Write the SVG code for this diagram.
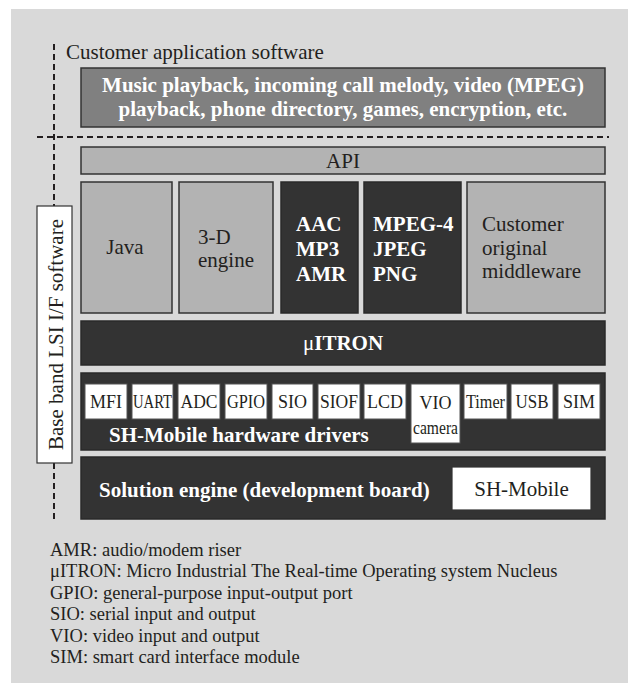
<svg xmlns="http://www.w3.org/2000/svg" width="628" height="683" viewBox="0 0 628 683">
<style>
text{font-family:"Liberation Serif","Times New Roman",serif;}
.t{font-size:21px;fill:#231f20;}
.b{font-size:21px;font-weight:bold;fill:#ffffff;}
.s{font-size:18px;fill:#231f20;}
.lg{font-size:18.5px;fill:#231f20;}
.mid{fill:#808080;stroke:#333;stroke-width:1.5;}
.lt{fill:#b3b3b3;stroke:#333;stroke-width:1.5;}
.dk{fill:#333333;stroke:#2a2a2a;stroke-width:1.5;}
.wh{fill:#ffffff;stroke:#333;stroke-width:1.2;}
.sm{fill:#ffffff;stroke:#555;stroke-width:1;}
.dash{fill:none;stroke:#231f20;stroke-width:2;stroke-dasharray:6 4;}
</style>
<rect x="11" y="9" width="617" height="674" fill="#d9d9d9"/>

<g id="separators">
<line class="dash" x1="54" y1="44" x2="54" y2="206"/>
<line class="dash" x1="54" y1="463" x2="54" y2="521"/>
<line class="dash" x1="37" y1="137" x2="609" y2="137"/>
</g>

<g id="customer-app">
<text class="t" x="66" y="59">Customer application software</text>
<rect class="mid" x="81" y="68" width="524" height="59"/>
<text class="b" x="343" y="92" text-anchor="middle">Music playback, incoming call melody, video (MPEG)</text>
<text class="b" x="343" y="116" text-anchor="middle">playback, phone directory, games, encryption, etc.</text>
</g>

<g id="baseband">
<rect class="wh" x="37" y="206" width="35" height="257"/>
<text class="t" transform="translate(63,334.5) rotate(-90)" text-anchor="middle">Base band LSI I/F software</text>
</g>

<g id="api">
<rect class="lt" x="81" y="147" width="524" height="27"/>
<text class="t" x="343" y="168" text-anchor="middle">API</text>
</g>

<g id="java">
<rect class="lt" x="81" y="182" width="91" height="131"/>
<text class="t" x="125" y="254" text-anchor="middle">Java</text>
</g>

<g id="engine3d">
<rect class="lt" x="179" y="182" width="94" height="131"/>
<text class="t" x="198" y="244">3-D</text>
<text class="t" x="198" y="267">engine</text>
</g>

<g id="audio">
<rect class="dk" x="281" y="182" width="77" height="131"/>
<text class="b" x="296" y="231">AAC</text>
<text class="b" x="296" y="256">MP3</text>
<text class="b" x="296" y="281">AMR</text>
</g>

<g id="image">
<rect class="dk" x="364" y="182" width="97" height="131"/>
<text class="b" x="373" y="231">MPEG-4</text>
<text class="b" x="373" y="256">JPEG</text>
<text class="b" x="373" y="281">PNG</text>
</g>

<g id="middleware">
<rect class="lt" x="467" y="182" width="138" height="131"/>
<text class="t" x="482" y="231">Customer</text>
<text class="t" x="482" y="255">original</text>
<text class="t" x="482" y="278">middleware</text>
</g>

<g id="itron">
<rect class="dk" x="81" y="321" width="524" height="44"/>
<text class="b" x="343" y="350" text-anchor="middle"><tspan font-weight="normal">μ</tspan>ITRON</text>
</g>

<g id="drivers">
<rect class="dk" x="81" y="373" width="524" height="77"/>
<text class="b" x="109" y="442">SH-Mobile hardware drivers</text>
</g>
<g id="drv-mfi"><rect class="sm" x="85" y="384" width="42" height="35"/><text class="s" x="106" y="408" text-anchor="middle">MFI</text></g>
<g id="drv-uart"><rect class="sm" x="132" y="384" width="41" height="35"/><text class="s" x="152.5" y="408" text-anchor="middle" textLength="39" lengthAdjust="spacingAndGlyphs">UART</text></g>
<g id="drv-adc"><rect class="sm" x="178" y="384" width="42" height="35"/><text class="s" x="199" y="408" text-anchor="middle" textLength="37" lengthAdjust="spacingAndGlyphs">ADC</text></g>
<g id="drv-gpio"><rect class="sm" x="225" y="384" width="42" height="35"/><text class="s" x="246" y="408" text-anchor="middle" textLength="38" lengthAdjust="spacingAndGlyphs">GPIO</text></g>
<g id="drv-sio"><rect class="sm" x="272" y="384" width="41" height="35"/><text class="s" x="292.5" y="408" text-anchor="middle">SIO</text></g>
<g id="drv-siof"><rect class="sm" x="318" y="384" width="42" height="35"/><text class="s" x="339" y="408" text-anchor="middle" textLength="38" lengthAdjust="spacingAndGlyphs">SIOF</text></g>
<g id="drv-lcd"><rect class="sm" x="364" y="384" width="42" height="35"/><text class="s" x="385" y="408" text-anchor="middle">LCD</text></g>
<g id="drv-vio"><rect class="sm" x="411" y="384" width="49" height="59"/><text class="s" x="435.5" y="409" text-anchor="middle">VIO</text><text class="s" x="435.5" y="434" text-anchor="middle" font-size="16" textLength="45" lengthAdjust="spacingAndGlyphs">camera</text></g>
<g id="drv-timer"><rect class="sm" x="464" y="384" width="43" height="35"/><text class="s" x="485.5" y="408" text-anchor="middle" textLength="39" lengthAdjust="spacingAndGlyphs">Timer</text></g>
<g id="drv-usb"><rect class="sm" x="511" y="384" width="42" height="35"/><text class="s" x="532" y="408" text-anchor="middle" textLength="33" lengthAdjust="spacingAndGlyphs">USB</text></g>
<g id="drv-sim"><rect class="sm" x="558" y="384" width="42" height="35"/><text class="s" x="579" y="408" text-anchor="middle">SIM</text></g>

<g id="solution">
<rect class="dk" x="81" y="457" width="524" height="62"/>
<text class="b" x="99" y="497">Solution engine (development board)</text>
</g>
<g id="shmobile">
<rect class="wh" x="452" y="467" width="139" height="43"/>
<text class="t" x="521.5" y="496" text-anchor="middle">SH-Mobile</text>
</g>

<g id="legend">
<text class="lg" x="50" y="556">AMR: audio/modem riser</text>
<text class="lg" x="50" y="577.4">μITRON: Micro Industrial The Real-time Operating system Nucleus</text>
<text class="lg" x="50" y="598.8">GPIO: general-purpose input-output port</text>
<text class="lg" x="50" y="620.2">SIO: serial input and output</text>
<text class="lg" x="50" y="641.6">VIO: video input and output</text>
<text class="lg" x="50" y="663">SIM: smart card interface module</text>
</g>
</svg>
